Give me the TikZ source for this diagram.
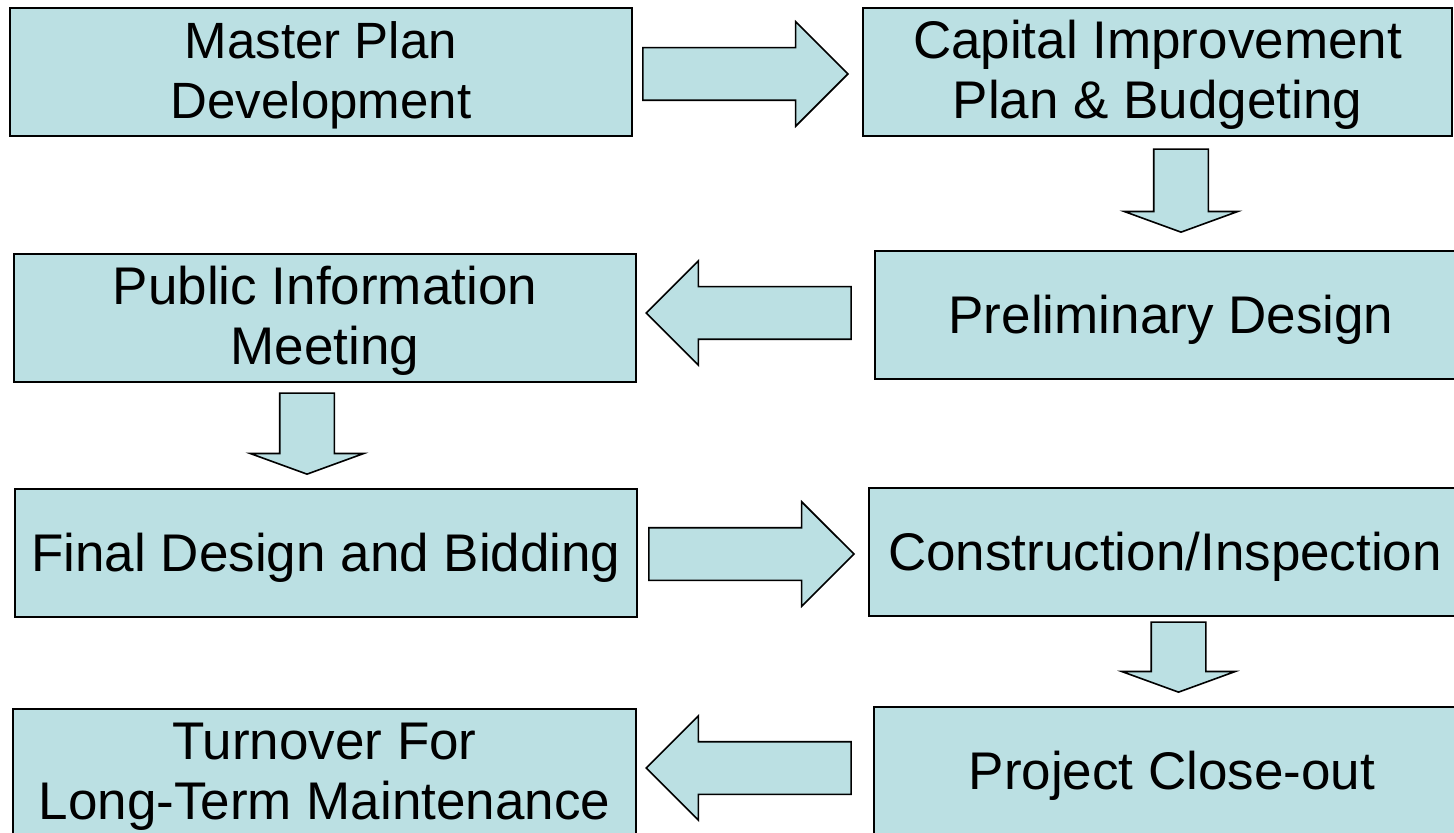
\documentclass[tikz,border=0pt]{standalone}
\usepackage{fontspec}
\setmainfont{Liberation Sans}
\usepackage{tikz}
\usetikzlibrary{shapes.arrows}
\definecolor{paleteal}{HTML}{BBE0E3}

\begin{document}
\begin{tikzpicture}[x=0.5pt,y=-0.5pt,
  stage/.style={draw=black,line width=1pt,fill=paleteal,minimum height=64pt,
    inner sep=0pt,align=center,font=\fontsize{26.5}{30}\selectfont},
  oneline/.style={stage,text height=24pt},
  twoline/.style={stage,text height=51.6pt},
  blk/.style={shape=single arrow,draw=black,line width=0.8pt,fill=paleteal,anchor=tip},
  rblk/.style={blk,shape border rotate=0,single arrow tip angle=90,inner sep=12.75pt,
    single arrow head extend=13pt,minimum height=102.5pt},
  lblk/.style={rblk,shape border rotate=180},
  dblk/.style={blk,shape border rotate=270,single arrow tip angle=140,inner sep=13.25pt,
    single arrow head extend=14.75pt},
]
\useasboundingbox (0,0) rectangle (1454,833);

% left column
\node[twoline,minimum width=311pt,font=\fontsize{25.5}{30}\selectfont] (master) at (321,72) {Master Plan\\Development};
\node[twoline,minimum width=311pt] (public) at (325,318) {Public Information\\Meeting};
\node[oneline,minimum width=311pt] (final) at (326,553) {Final Design and Bidding};
\node[twoline,minimum width=311.5pt] (turnover) at (324.5,773) {Turnover For\\Long-Term Maintenance};

% right column (runs off the page edge)
\node[twoline,minimum width=294.5pt] (capital) at (1157.5,72) {Capital Improvement\\Plan \& Budgeting};
\node[oneline,minimum width=296pt] (prelim) at (1171,315) {Preliminary Design};
\node[oneline,minimum width=296pt] (constr) at (1165,552) {Construction/Inspection};
\node[oneline,minimum width=298pt] (closeout) at (1172,771) {Project Close-out};

% block arrows, placed by their tips
\node[rblk] (a1) at (849,74) {};
\node[dblk,minimum height=41.5pt] (a2) at (1181,233) {};
\node[lblk] (a3) at (645,313) {};
\node[dblk,minimum height=40.5pt] (a4) at (307,475) {};
\node[rblk] (a5) at (855,554) {};
\node[dblk,minimum height=35pt] (a6) at (1178.5,693) {};
\node[lblk] (a7) at (645,768) {};
\end{tikzpicture}
\end{document}
